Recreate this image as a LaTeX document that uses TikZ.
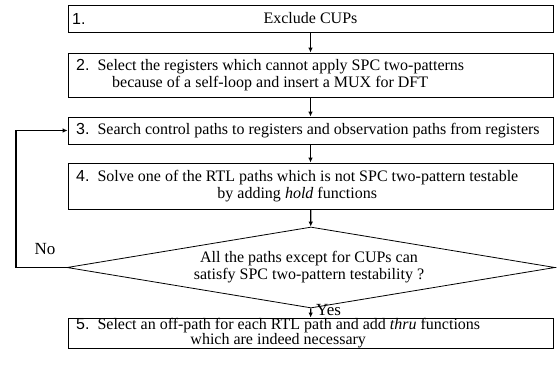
\documentclass[tikz,border=0pt]{standalone}
\usepackage{fontspec}
\setmainfont{Liberation Serif}
\setsansfont{Liberation Sans}
\usetikzlibrary{arrows.meta,shapes.geometric}

\begin{document}
\begin{tikzpicture}[x=1pt,y=-1pt,>={Latex[length=5pt,width=4.5pt]},
    step box/.style={draw,rectangle,line width=0.8pt,minimum width=485pt,inner sep=0pt},
    test node/.style={draw,diamond,line width=0.8pt,minimum width=488pt,minimum height=81pt,inner sep=0pt},
    txt/.style={font=\fontsize{16}{17}\selectfont,align=center,inner sep=0pt},
    num/.style={font=\sffamily\fontsize{16}{17}\selectfont,anchor=west,inner sep=0pt},
    flow/.style={->,line width=1.2pt}]
    \useasboundingbox (0,0) rectangle (557,375);

    \node[step box,minimum height=27pt] (1) at (310.5,18.5) {};
    \node[step box,minimum height=44pt] (2) at (310.5,75) {};
    \node[step box,minimum height=27pt] (3) at (310.5,130.5) {};
    \node[step box,minimum height=46pt] (4) at (310.5,186) {};
    \node[test node] (6) at (311,267.5) {};
    \node[step box,minimum height=30pt] (5) at (310.5,333) {};

    \node[num] (1n) at (72,18.5) {1.};
    \node[txt] (1t) at (310.5,18.5) {Exclude CUPs};
    \node[txt,anchor=west] (2t) at (76,75) {{\sffamily 2.}\ \ Select the registers which cannot apply SPC two-patterns\\
        because of a self-loop and insert a MUX for DFT};
    \node[txt,anchor=west] (3t) at (76,130.5) {{\sffamily 3.}\ \ Search control paths to registers and observation paths from registers};
    \node[txt,anchor=west] (4t) at (76,186) {{\sffamily 4.}\ \ Solve one of the RTL paths which is not SPC two-pattern testable\\
        by adding \textit{hold} functions};
    \node[txt] (6t) at (309,267.5) {All the paths except for CUPs can\\
        satisfy SPC two-pattern testability ?};
    \node[txt,anchor=west,font=\fontsize{16}{15}\selectfont] (5t) at (76,333.5) {{\sffamily 5.}\ \ Select an off-path for each RTL path and add \textit{thru} functions\\
        which are indeed necessary};

    \node[font=\fontsize{17}{17}\selectfont,inner sep=0pt] (no) at (45,249) {No};
    \node[font=\fontsize{17}{17}\selectfont,inner sep=0pt,anchor=base west] (yes) at (316,315) {Yes};

    \coordinate (back) at (16,267.5);

    \draw[flow] (1) -- (2);
    \draw[flow] (2) -- (3);
    \draw[flow] (3) -- (4);
    \draw[flow] (4) -- (6);
    \draw[flow] (6) -- (5);
    \draw[flow] (6.west) -- (back) |- (3.west);

\end{tikzpicture}
\end{document}
